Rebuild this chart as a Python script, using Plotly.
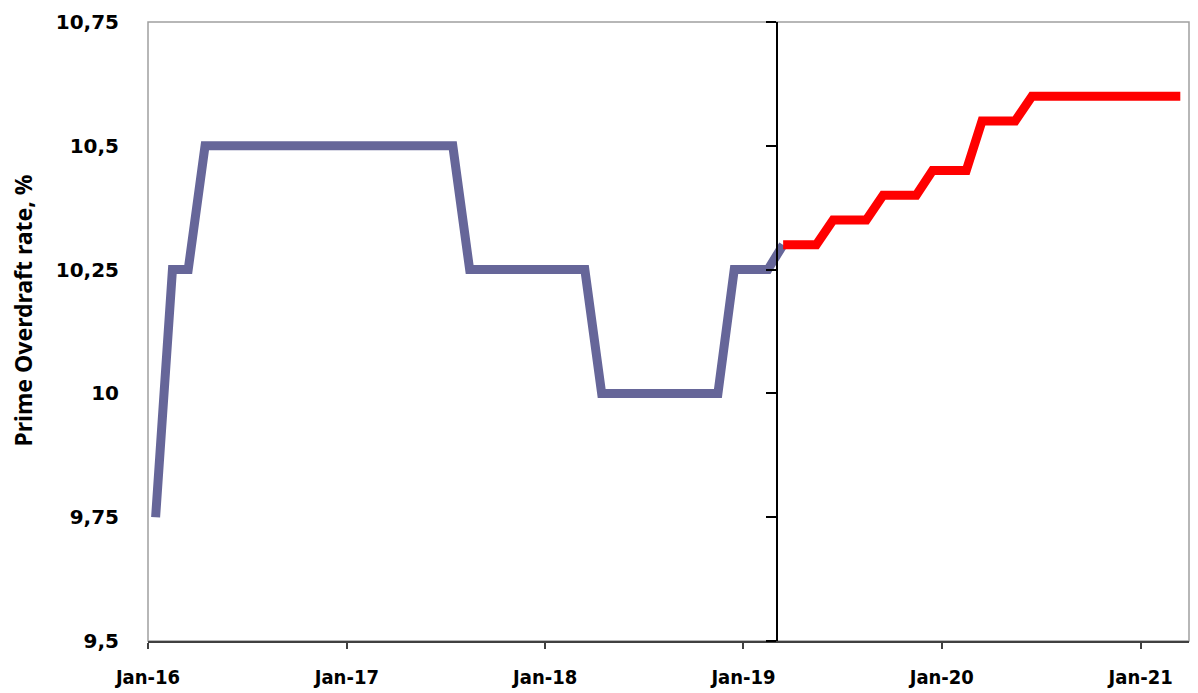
import pandas as pd
import plotly.graph_objects as go

# ---- data ----
months = pd.date_range("2016-01-01", "2021-03-01", freq="MS") + pd.Timedelta(days=14)

actual_values = (
    [9.75, 10.25, 10.25]
    + [10.5] * 16
    + [10.25] * 8
    + [10.0] * 8
    + [10.25] * 3
    + [10.30]
)
forecast_values = (
    [10.30] * 3
    + [10.35] * 3
    + [10.40] * 3
    + [10.45] * 3
    + [10.55] * 3
    + [10.60] * 10
)
actual_dates = months[: len(actual_values)]
forecast_dates = months[len(actual_values) - 1:]

y_ticks = [9.5, 9.75, 10, 10.25, 10.5, 10.75]
x_ticks = ["2016-01-01", "2017-01-01", "2018-01-01", "2019-01-01", "2020-01-01", "2021-01-01"]
x_ticktext = ["Jan-16", "Jan-17", "Jan-18", "Jan-19", "Jan-20", "Jan-21"]
x_range = ["2016-01-01", "2021-03-31"]
y_range = [9.5, 10.75]
SPLIT_DATE = "2019-03-04"
Y_TITLE = "Prime Overdraft rate, %"

fig = go.Figure()
fig.add_trace(go.Scatter(x=actual_dates, y=actual_values, mode="lines",
                         line=dict(color="#666699", width=9), showlegend=False))
fig.add_trace(go.Scatter(x=forecast_dates, y=forecast_values, mode="lines", yaxis="y2",
                         line=dict(color="#FF0000", width=9), showlegend=False))

x0 = pd.Timestamp(x_range[0]); x1 = pd.Timestamp(x_range[1])
split_pos = (pd.Timestamp(SPLIT_DATE) - x0) / (x1 - x0)

fig.update_layout(
    width=1198, height=693,
    margin=dict(l=148, r=9, t=22, b=52, autoexpand=False),
    plot_bgcolor="white", paper_bgcolor="white",
    separators=", ",
    xaxis=dict(
        type="date", range=x_range, tickvals=x_ticks, ticktext=x_ticktext,
        ticks="outside", ticklen=6, tickwidth=1.5, tickcolor="#404040",
        showline=True, linecolor="#404040", linewidth=1.5,
        showgrid=False, zeroline=False, automargin=False,
        tickfont=dict(family="DejaVu Sans Condensed, Liberation Sans Narrow, DejaVu Sans", size=20, color="#000000", weight="bold"),
        ticklabelstandoff=11,
    ),
    yaxis=dict(
        range=y_range, tickvals=y_ticks, showgrid=False, zeroline=False,
        showline=False, ticks="", automargin=False,
        tickfont=dict(family="DejaVu Sans", size=20, color="#000000", weight="bold"),
        ticklabelstandoff=28,
    ),
    yaxis2=dict(
        overlaying="y", anchor="free", position=split_pos, side="left",
        range=y_range, tickvals=y_ticks, showticklabels=False,
        ticks="outside", ticklen=10, tickwidth=1.5, tickcolor="#000000",
        showline=True, linecolor="#000000", linewidth=1.5,
        showgrid=False, zeroline=False, automargin=False,
    ),
    shapes=[dict(type="rect", xref="paper", yref="paper", x0=0, x1=1, y0=0, y1=1,
                 line=dict(color="#A0A0A0", width=1.5), layer="below")],
    annotations=[dict(text=Y_TITLE, textangle=-90, xref="paper", yref="paper",
                      x=0, y=0.5, xanchor="center", yanchor="middle",
                      xshift=-126, yshift=21, showarrow=False,
                      font=dict(family="Noto Sans", size=23, color="#000000", weight="bold"))],
)

fig.write_html(
    "out.html",
    config={"displayModeBar": False},
    post_script="document.body.style.margin='0';document.body.style.overflow='hidden';",
)
